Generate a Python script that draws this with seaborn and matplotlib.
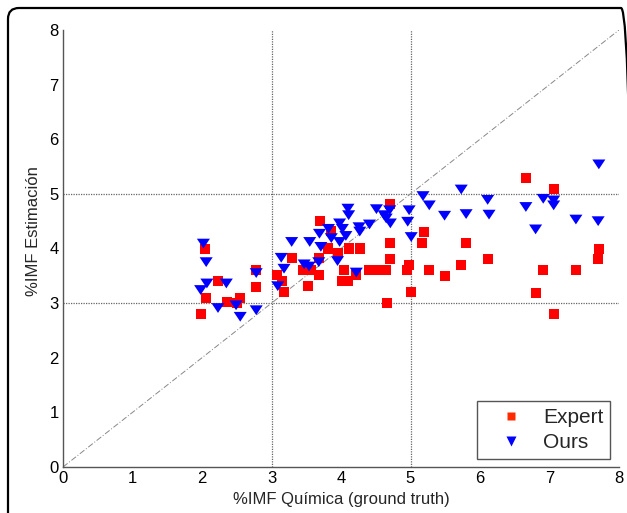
import numpy as np
import pandas as pd
import matplotlib
matplotlib.use("Agg")
import matplotlib.pyplot as plt
import seaborn as sns
from matplotlib.patches import FancyBboxPatch
from matplotlib.lines import Line2D
from matplotlib.transforms import IdentityTransform

# ---- data ----
expert_x = [1.98, 2.04, 2.06, 2.23, 2.36, 2.50, 2.54, 2.78, 2.78, 3.08, 3.15, 3.18,
            3.30, 3.45, 3.53, 3.57, 3.68, 3.69, 3.70, 3.82, 3.85, 3.95, 4.02, 4.05,
            4.10, 4.11, 4.22, 4.27, 4.41, 4.52, 4.65, 4.66, 4.71, 4.71, 4.71, 4.95,
            4.98, 5.01, 5.17, 5.20, 5.27, 5.49, 5.73, 5.80, 6.12, 6.66, 6.80, 6.91,
            7.06, 7.06, 7.38, 7.70, 7.71]
expert_y = [2.80, 3.99, 3.10, 3.40, 3.02, 3.00, 3.10, 3.61, 3.30, 3.51, 3.41, 3.20,
            3.82, 3.60, 3.31, 3.60, 3.82, 3.51, 4.50, 4.00, 4.32, 3.91, 3.40, 3.60,
            3.40, 4.00, 3.51, 4.00, 3.60, 3.60, 3.60, 3.01, 4.81, 4.10, 3.80, 3.60,
            3.69, 3.20, 4.10, 4.30, 3.60, 3.50, 3.69, 4.10, 3.80, 5.29, 3.19, 3.60,
            5.09, 2.80, 3.60, 3.80, 3.99]

ours_x = [1.98, 2.02, 2.06, 2.07, 2.23, 2.35, 2.49, 2.55, 2.78, 2.78, 3.09, 3.14,
          3.18, 3.29, 3.47, 3.54, 3.55, 3.68, 3.69, 3.71, 3.82, 3.86, 3.95, 3.98,
          3.98, 4.02, 4.07, 4.10, 4.11, 4.22, 4.26, 4.27, 4.41, 4.51, 4.62, 4.65,
          4.70, 4.71, 4.96, 4.98, 5.01, 5.18, 5.27, 5.49, 5.73, 5.80, 6.11, 6.13,
          6.66, 6.80, 6.91, 7.06, 7.06, 7.38, 7.70, 7.71]
ours_y = [3.24, 4.09, 3.75, 3.36, 2.91, 3.36, 2.96, 2.75, 2.87, 3.55, 3.31, 3.83,
          3.63, 4.12, 3.71, 3.67, 4.12, 3.75, 4.27, 4.03, 4.36, 4.19, 3.77, 4.46,
          4.12, 4.36, 4.23, 4.73, 4.61, 3.56, 4.39, 4.31, 4.44, 4.72, 4.61, 4.55,
          4.70, 4.46, 4.49, 4.70, 4.21, 4.96, 4.79, 4.60, 5.08, 4.63, 4.89, 4.62,
          4.76, 4.35, 4.91, 4.88, 4.79, 4.53, 4.50, 5.54]

series_labels = ["Expert", "Ours"]
x_ticks = [0, 1, 2, 3, 4, 5, 6, 7, 8]
y_ticks = [0, 1, 2, 3, 4, 5, 6, 7, 8]
ref_lines = [3, 5]

xlabel = "%IMF Química (ground truth)"
ylabel = "%IMF Estimación"

sns.set_style("white")
plt.rcParams['font.family'] = ['Liberation Sans', 'DejaVu Sans']

W, H = 627, 513
fig = plt.figure(figsize=(W / 100, H / 100), dpi=100)

# outer rounded frame, in pixel coords (origin bottom-left)
frame = FancyBboxPatch((8, -20), 632 - 8, (H - 8) + 20,
                       boxstyle="round,pad=0,rounding_size=11",
                       transform=IdentityTransform(), fill=False, ec="black",
                       lw=1.6, clip_on=False)
fig.patches.append(frame)

ax_l, ax_r, ax_t, ax_b = 63, 619, 30, 467
ax = fig.add_axes([ax_l / W, 1 - ax_b / H, (ax_r - ax_l) / W, (ax_b - ax_t) / H])
ax.set_facecolor("none")

tri = [(-1.0, 0.75), (1.0, 0.75), (0.0, -0.75)]

df_e = pd.DataFrame({"x": expert_x, "y": expert_y})
df_o = pd.DataFrame({"x": ours_x, "y": ours_y})

# reference lines
for v in ref_lines:
    ax.axvline(v, color="#666666", lw=0.9, ls=(0, (1, 1)), zorder=1)
    ax.axhline(v, color="#666666", lw=0.9, ls=(0, (1, 1)), zorder=1)
ax.plot([0, 8], [0, 8], color="#888888", lw=0.7, ls=(0, (6, 2, 1, 2)), zorder=1)

sns.scatterplot(data=df_e, x="x", y="y", ax=ax, marker="s", s=52,
                color="#ff0000", edgecolor="none", linewidth=0, zorder=3)
sns.scatterplot(data=df_o, x="x", y="y", ax=ax, marker=tri, s=88,
                color="#0000ff", edgecolor="none", linewidth=0, zorder=4)

ax.set_xlim(0, 8)
ax.set_ylim(0, 8)
ax.set_xticks(x_ticks)
ax.set_yticks(y_ticks)
ax.tick_params(direction="in", length=4, width=0.8, color="#555555",
               labelsize=12, pad=3, labelcolor="black")
for s in ["top", "right"]:
    ax.spines[s].set_visible(False)
for s in ["left", "bottom"]:
    ax.spines[s].set_color("#555555")
    ax.spines[s].set_linewidth(1.0)

ax.set_xlabel(xlabel, fontsize=12, labelpad=4)
ax.set_ylabel(ylabel, fontsize=12)
ax.yaxis.set_label_coords(-0.040, 0.54)

handles = [Line2D([], [], ls="none", marker="s", color="#ff2a00", ms=6, mec="none"),
           Line2D([], [], ls="none", marker="v", color="#0000ff", ms=7, mec="none")]
leg = ax.legend(handles, series_labels, loc="lower right",
                bbox_to_anchor=(0.984, 0.018), fontsize=15, frameon=True,
                fancybox=False, edgecolor="#555555", framealpha=1,
                handletextpad=0.25, borderpad=0.33, labelspacing=0.3,
                handlelength=2.6, borderaxespad=0)
leg.get_frame().set_linewidth(1.0)

fig.savefig("out.png", dpi=100)
